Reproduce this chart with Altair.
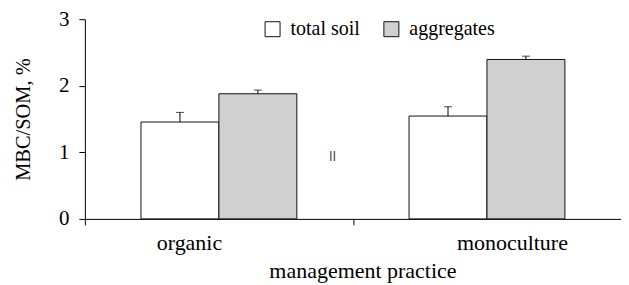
import altair as alt
import pandas as pd

practices = ["organic", "organic", "monoculture", "monoculture"]
fractions = ["total soil", "aggregates", "total soil", "aggregates"]
values = [1.455, 1.88, 1.545, 2.395]
errors = [0.145, 0.055, 0.14, 0.05]

cat_order = ["organic", "monoculture"]
frac_order = ["total soil", "aggregates"]
fill_colors = ["#ffffff", "#d0d0d0"]

mark_text = ["ll"]
mark_y = [0.93]

df = pd.DataFrame({
    "practice": practices,
    "fraction": fractions,
    "value": values,
    "upper": [v + e for v, e in zip(values, errors)],
})
df_mark = pd.DataFrame({"practice": ["organic"], "y": mark_y, "t": mark_text})

FONT = "Times New Roman, Liberation Serif, serif"

x_enc = alt.X(
    "practice:N",
    sort=cat_order,
    scale=alt.Scale(paddingInner=0, paddingOuter=0),
    axis=alt.Axis(
        title="management practice",
        labelAngle=0,
        tickBand="extent",
        tickSize=6,
        labelPadding=8,
        labelFontSize=22,
        titleFontSize=22,
        labelOffset=alt.ExprRef(expr="datum.value == 'organic' ? -30 : 25"),
        titleX=278,
        titlePadding=7,
    ),
)
xoff = alt.XOffset(
    "fraction:N",
    sort=frac_order,
    scale=alt.Scale(paddingInner=0, paddingOuter=0.72),
)
y_scale = alt.Scale(domain=[0, 3])

bars = alt.Chart(df).mark_bar(stroke="#111111", strokeWidth=1).encode(
    x=x_enc,
    xOffset=xoff,
    y=alt.Y(
        "value:Q",
        scale=y_scale,
        axis=alt.Axis(
            title="MBC/SOM, %",
            values=[0, 1, 2, 3],
            format="d",
            tickSize=6,
            labelPadding=10,
            labelFontSize=21,
            titleFontSize=20.5,
            titlePadding=25,
            grid=False,
        ),
    ),
    color=alt.Color(
        "fraction:N",
        sort=frac_order,
        scale=alt.Scale(domain=frac_order, range=fill_colors),
        legend=alt.Legend(
            title=None,
            orient="none",
            legendX=178,
            legendY=0,
            direction="horizontal",
            symbolType="square",
            symbolSize=225,
            symbolStrokeColor="#111111",
            symbolStrokeWidth=1,
            symbolOpacity=1,
            labelFont=FONT,
            labelFontSize=20,
            labelColor="black",
            labelOffset=8,
            columnPadding=21,
        ),
    ),
)

rules = alt.Chart(df).mark_rule(color="black", strokeWidth=1).encode(
    x=alt.X("practice:N", sort=cat_order),
    xOffset=xoff,
    y=alt.Y("value:Q", scale=y_scale),
    y2="upper:Q",
)

caps = alt.Chart(df).mark_tick(color="black", thickness=1, size=8).encode(
    x=alt.X("practice:N", sort=cat_order),
    xOffset=xoff,
    y=alt.Y("upper:Q", scale=y_scale),
)

stray = alt.Chart(df_mark).mark_text(
    font="DejaVu Sans", fontSize=13, color="#444444"
).encode(
    x=alt.X("practice:N", sort=cat_order, bandPosition=0.924),
    y=alt.Y("y:Q", scale=y_scale),
    text="t:N",
)

chart = (
    alt.layer(bars, rules, caps, stray)
    .properties(
        width=537,
        height=200,
        autosize=alt.AutoSizeParams(type="none"),
        padding={"left": 77, "top": 11, "right": 0, "bottom": 66},
    )
    .configure_view(stroke=None)
    .configure_axis(
        domainColor="black",
        tickColor="black",
        labelColor="black",
        titleColor="black",
        labelFont=FONT,
        titleFont=FONT,
        titleFontWeight="normal",
        grid=False,
    )
)

chart.save("out.html", embed_options={"renderer": "svg", "actions": False})
